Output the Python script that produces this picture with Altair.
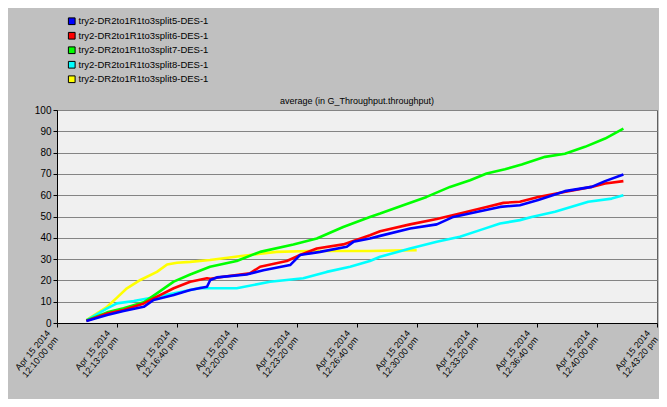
import json
import altair as alt
import pandas as pd

# ---- data (x = seconds after 12:10:00 pm, y = average throughput) ----
series_names = [
    "try2-DR2to1R1to3split5-DES-1",
    "try2-DR2to1R1to3split6-DES-1",
    "try2-DR2to1R1to3split7-DES-1",
    "try2-DR2to1R1to3split8-DES-1",
    "try2-DR2to1R1to3split9-DES-1",
]
series_colors = ["#0000FF", "#FF0000", "#00FF00", "#00FFFF", "#FFFF00"]

s5_t = [98, 167, 222, 289, 322, 389, 444, 500, 511, 533, 632, 688, 777, 810, 877, 966, 988, 1043,
        1077, 1177, 1266, 1321, 1410, 1477, 1543, 1604, 1693, 1782, 1827, 1888]
s5_v = [0.9, 3.75, 5.6, 7.6, 10.8, 13.1, 15.5, 17, 20.2, 21.4, 22.8, 24.8, 27.2, 31.9, 33.4, 35.8, 38.1, 39.7,
        40.9, 44.4, 46.3, 49.8, 52.5, 54.5, 55.3, 57.7, 61.9, 63.9, 66.6, 69.7]

s6_t = [98, 167, 222, 289, 322, 389, 444, 500, 511, 554, 643, 677, 766, 810, 866, 954, 1043, 1077,
        1177, 1266, 1343, 1432, 1488, 1543, 1604, 1682, 1782, 1827, 1888]
s6_v = [1.0, 4.5, 6.1, 9.2, 11.6, 16.3, 19.4, 21, 20.8, 21.7, 23.3, 26.4, 29.1, 31.9, 35, 36.9, 41.2, 43.1,
        46.3, 48.8, 51.4, 54.5, 56.4, 56.9, 59.2, 61.3, 63.9, 65.5, 66.6]

s7_t = [98, 167, 222, 289, 333, 389, 444, 510, 599, 677, 788, 866, 954, 1043, 1077, 1154, 1232, 1310,
        1377, 1432, 1493, 1549, 1627, 1693, 1760, 1827, 1888]
s7_v = [1.2, 5, 6.9, 9.7, 13.9, 19.4, 22.8, 26.4, 29.1, 33.4, 36.9, 39.7, 45.1, 49.8, 51.4, 55.3, 59.2, 63.9,
        67, 70.2, 72.2, 74.4, 78, 79.5, 82.7, 86.6, 91.3]

s8_t = [98, 167, 200, 256, 333, 444, 478, 510, 599, 710, 821, 899, 977, 1043, 1077, 1177, 1266, 1343,
        1410, 1477, 1543, 1582, 1660, 1771, 1849, 1888]
s8_v = [1.2, 6.9, 9.2, 10.3, 12.3, 15.5, 16.5, 16.3, 16.3, 19.4, 21, 24, 26.4, 29.1, 31.1, 35, 38.1, 40.5,
        43.6, 46.7, 48.3, 49.8, 52.2, 56.9, 58.4, 60]

s9_t = [98, 167, 200, 233, 278, 333, 367, 400, 444, 510, 621, 732, 843, 1043, 1199]
s9_v = [1.4, 7.6, 11.9, 16.3, 20.2, 24, 27.5, 28.3, 28.7, 29.6, 31.6, 33.4, 33.8, 33.8, 34.2]

x_ticks = [0, 200, 400, 600, 800, 1000, 1200, 1400, 1600, 1800, 2000]
date_label = "Apr 15 2014"
time_labels = ["12:10:00 pm", "12:13:20 pm", "12:16:40 pm", "12:20:00 pm", "12:23:20 pm",
               "12:26:40 pm", "12:30:00 pm", "12:33:20 pm", "12:36:40 pm", "12:40:00 pm",
               "12:43:20 pm"]
y_ticks = [0, 10, 20, 30, 40, 50, 60, 70, 80, 90, 100]
chart_title = "average (in G_Throughput.throughput)"

# ---- table ----
all_t = [s5_t, s6_t, s7_t, s8_t, s9_t]
all_v = [s5_v, s6_v, s7_v, s8_v, s9_v]
rows = []
# reversed so the first series is drawn on top
for k in reversed(range(5)):
    for t, v in zip(all_t[k], all_v[k]):
        rows.append({"series": series_names[k], "t": t, "v": v, "k": k})
df = pd.DataFrame(rows)
title_df = pd.DataFrame({"label": [chart_title]})

FONT = "Liberation Sans, Arial, sans-serif"
FS = 9

label_expr = "[%s, %s[round(datum.value / 200)]]" % (json.dumps(date_label), json.dumps(time_labels))

x_enc = alt.X("t:Q",
              scale=alt.Scale(domain=[0, 2000], nice=False, zero=False),
              axis=alt.Axis(values=x_ticks, labelExpr=label_expr, title=None, grid=False,
                            labelAngle=310, labelAlign="right", labelBaseline="middle",
                            labelPadding=4, labelOffset=-9, labelLineHeight=10,
                            labelFont=FONT, labelFontSize=FS,
                            labelColor="#000000", tickColor="#000000", tickSize=4,
                            domainColor="#000000", labelOverlap=False, labelFlush=False))
y_enc = alt.Y("v:Q",
              scale=alt.Scale(domain=[0, 100], nice=False),
              axis=alt.Axis(values=y_ticks, title=None, grid=True, gridColor="#848484",
                            gridWidth=1.2, labelFont=FONT, labelFontSize=FS + 1, labelColor="#000000",
                            tickColor="#000000", tickSize=4, labelPadding=2,
                            domainColor="#000000", labelOverlap=False))
color_scale = alt.Scale(domain=series_names, range=series_colors)

lines = alt.Chart(df).mark_line(strokeWidth=2.6, strokeJoin="round").encode(
    x=x_enc,
    y=y_enc,
    color=alt.Color("series:N", scale=color_scale, legend=None),
    detail="k:N",
)

# invisible filled squares that only carry the legend (filled swatches with black border)
legend_layer = alt.Chart(df).mark_square(size=0, filled=True).encode(
    x=x_enc,
    y=y_enc,
    color=alt.Color("series:N", scale=color_scale,
                    legend=alt.Legend(title=None, orient="none", legendX=10, legendY=-93.5,
                                      symbolType="square", symbolSize=45,
                                      symbolStrokeColor="#000000", symbolStrokeWidth=1,
                                      symbolOpacity=1,
                                      labelFont=FONT, labelFontSize=FS + 0.5, labelColor="#000000",
                                      labelOffset=2, rowPadding=2.5, padding=0)),
)

title_text = alt.Chart(title_df).mark_text(
    font=FONT, fontSize=FS, color="#000000", align="center", baseline="middle"
).encode(
    text="label:N",
    x=alt.value(300),
    y=alt.value(-9),
)

chart = alt.layer(lines, legend_layer, title_text).resolve_legend(
    color="independent"
).properties(
    width=600,
    height=213,
    autosize=alt.AutoSizeParams(type="none"),
    padding={"left": 49, "top": 102, "right": 2, "bottom": 76},
    background="#C0C0C0",
).configure_view(
    fill="#F0F0F0", stroke="#606060", strokeWidth=1
)

chart.save("out.html", embed_options={"renderer": "svg", "actions": False})
